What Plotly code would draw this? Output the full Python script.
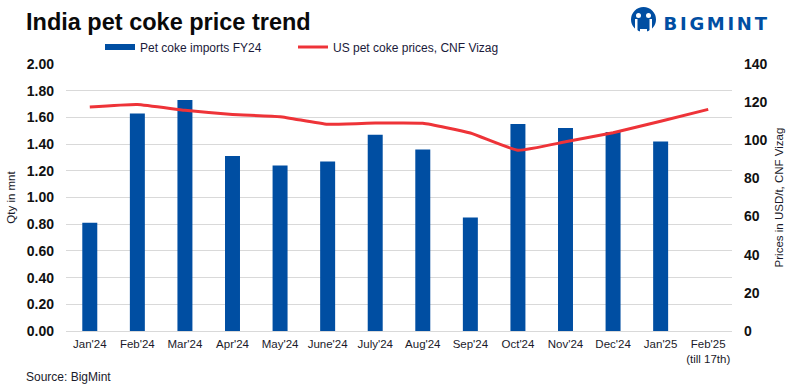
import plotly.graph_objects as go

categories = ["Jan'24", "Feb'24", "Mar'24", "Apr'24", "May'24", "June'24", "July'24", "Aug'24",
              "Sep'24", "Oct'24", "Nov'24", "Dec'24", "Jan'25", "Feb'25<br>(till 17th)"]
imports_mnt = [0.81, 1.63, 1.73, 1.31, 1.24, 1.27, 1.47, 1.36, 0.85, 1.55, 1.52, 1.49, 1.42, None]
us_prices = [117.5, 118.8, 115.7, 113.5, 112.4, 108.4, 109.0, 108.9, 103.8, 94.8, 99.2, 104.0, 110.0, 116.2]
left_ticks = [0, 0.2, 0.4, 0.6, 0.8, 1.0, 1.2, 1.4, 1.6, 1.8, 2.0]
right_ticks = [0, 20, 40, 60, 80, 100, 120, 140]

BLUE = "#004EA2"
RED = "#EE3338"
FONT = "Liberation Sans"
W, H = 793, 391
L, R, T, B = 66, 732, 64, 331

def px(x): return (x - L) / (R - L)
def py(y): return (B - y) / (B - T)

fig = go.Figure()
fig.add_bar(x=categories, y=imports_mnt, name="Pet coke imports FY24",
            marker=dict(color=BLUE, line_width=0), width=0.315, yaxis="y", showlegend=False,
            legendgroup="imports")
# legend key only: the original shows the bar series as a wide flat swatch
fig.add_scatter(x=[None], y=[None], name="Pet coke imports FY24", mode="lines",
                line=dict(color=BLUE, width=6), legendgroup="imports")
fig.add_scatter(x=categories, y=us_prices, name="US pet coke prices, CNF Vizag", mode="lines",
                line=dict(color=RED, width=3, shape="spline", smoothing=0.4), yaxis="y2")

tick_font = dict(size=14, color="#111111", weight="bold")
fig.update_layout(
    width=W, height=H, autosize=False,
    margin=dict(l=L, r=W - R, t=T, b=H - B, autoexpand=False),
    paper_bgcolor="white", plot_bgcolor="white",
    font=dict(family=FONT, size=12, color="#1a1a2a"),
    showlegend=True,
    legend=dict(orientation="h", x=px(100), xanchor="left", y=py(47), yanchor="middle",
                font=dict(size=12, color="#1a1a3a"), bgcolor="rgba(0,0,0,0)",
                entrywidth=148, entrywidthmode="pixels", itemwidth=30),
    xaxis=dict(type="category", range=[-0.5, 13.5], showgrid=False, ticks="", showline=True,
               automargin=False, linecolor="#d9d9d9", linewidth=1, tickangle=0, ticklabelstandoff=2,
               tickfont=dict(size=11.5, color="#1a1a2a")),
    yaxis=dict(range=[0, 2], tickvals=left_ticks, tickformat=".2f", gridcolor="#d9d9d9", gridwidth=1,
               automargin=False, zeroline=False, showline=False, ticks="", ticklabelstandoff=11,
               tickfont=tick_font,
               title=dict(text="Qty in mnt", font=dict(size=11.5, color="#1a1a2a"), standoff=8)),
    yaxis2=dict(range=[0, 140], tickvals=right_ticks, overlaying="y", side="right", showgrid=False,
                automargin=False, zeroline=False, showline=False, ticks="", ticklabelstandoff=11,
                tickfont=tick_font,
                title=dict(text="Prices in USD/t, CNF Vizag", font=dict(size=11.5, color="#1a1a2a"), standoff=8)),
    annotations=[
        dict(text="<b>India pet coke price trend</b>", xref="paper", yref="paper",
             x=px(26), xanchor="left", xshift=-2, y=py(22), yanchor="middle", showarrow=False,
             font=dict(size=23.5, color="#0a0a0a", family=FONT)),
        dict(text="Source: BigMint", xref="paper", yref="paper",
             x=px(26), xanchor="left", xshift=-2, y=py(377), yanchor="middle", showarrow=False,
             font=dict(size=12, color="#1a1a2a")),
        dict(text="<b>BIGMINT</b>", xref="paper", yref="paper",
             x=px(717), xanchor="center", y=py(23), yanchor="middle", showarrow=False,
             font=dict(size=18, color=BLUE, family="DejaVu Sans")),
    ],
    shapes=[
        dict(type="circle", xref="paper", yref="paper", x0=px(631), x1=px(656), y0=py(32), y1=py(7),
             fillcolor=BLUE, line_width=0),
        dict(type="circle", xref="paper", yref="paper", x0=px(636), x1=px(641), y0=py(18), y1=py(13),
             fillcolor="white", line_width=0),
        dict(type="circle", xref="paper", yref="paper", x0=px(646), x1=px(651), y0=py(18), y1=py(13),
             fillcolor="white", line_width=0),
        dict(type="rect", xref="paper", yref="paper", x0=px(635), x1=px(637.5), y0=py(31), y1=py(19),
             fillcolor="white", line_width=0),
        dict(type="rect", xref="paper", yref="paper", x0=px(649.5), x1=px(652), y0=py(31), y1=py(19),
             fillcolor="white", line_width=0),
        dict(type="rect", xref="paper", yref="paper", x0=px(640), x1=px(647), y0=py(33), y1=py(29),
             fillcolor="white", line_width=0),
    ],
)

page_fixes = """
document.body.style.margin = '0';
document.documentElement.style.overflow = 'hidden';
document.querySelectorAll('.annotation-text').forEach(function (t) {
  if (t.textContent === 'BIGMINT') { t.style.letterSpacing = '2.7px'; }
});
document.querySelectorAll('.legend .scrollbox, .legend').forEach(function (g) {
  g.removeAttribute('clip-path');
  g.style.clipPath = 'none';
});
"""
fig.write_html("out.html", post_script=page_fixes, config=dict(displayModeBar=False))
